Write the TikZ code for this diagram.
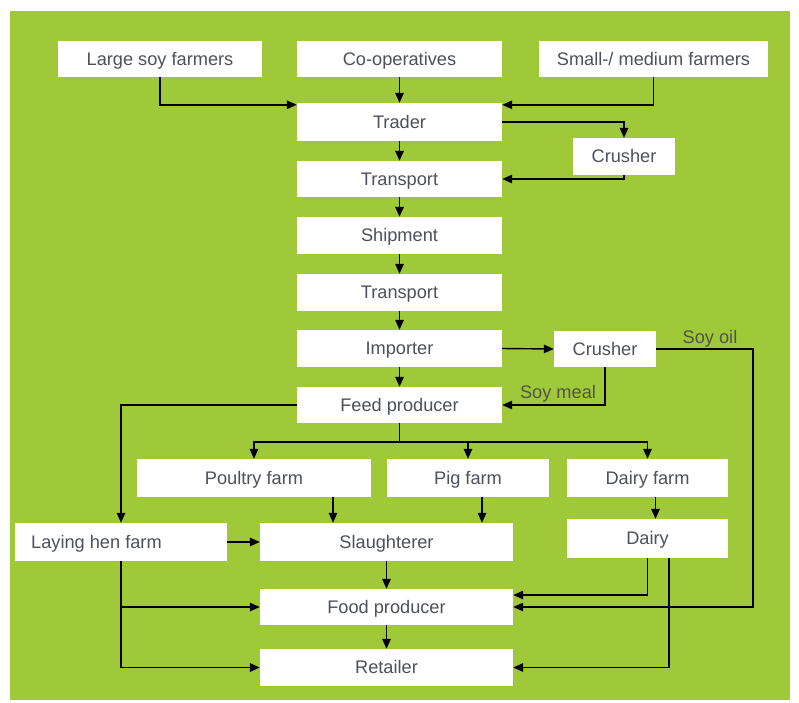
\documentclass[tikz,border=0pt]{standalone}
\usepackage{fontspec}
\setmainfont{Liberation Sans}
\usetikzlibrary{arrows.meta,calc}
\definecolor{bggreen}{RGB}{160,201,58}
\definecolor{txtgray}{RGB}{78,80,92}
\definecolor{lblgray}{RGB}{80,84,72}
\begin{document}
\begin{tikzpicture}[x=1pt,y=-1pt,
  box/.style={draw=none,fill=white,inner sep=0pt,text=txtgray,text height=13pt,text depth=1pt,font=\fontsize{18.2}{20}\selectfont},
  arr/.style={line width=1.4pt,draw=black,-{Triangle[length=10pt,width=8.5pt]}},
  ln/.style={line width=1.4pt,draw=black},
  lbl/.style={text=lblgray,inner sep=0pt,text height=13pt,text depth=1pt,font=\fontsize{18.2}{20}\selectfont}]
\useasboundingbox (0,0) rectangle (799,702);
\fill[bggreen] (10,11) rectangle (790,700);
% boxes
\node[box,minimum width=204pt,minimum height=36pt] (large) at (160,59) {Large soy farmers};
\node[box,minimum width=205pt,minimum height=36pt] (coop) at (399.5,59) {Co-operatives};
\node[box,minimum width=229pt,minimum height=36pt] (small) at (653.5,59) {Small-/ medium farmers};
\node[box,minimum width=205pt,minimum height=38pt] (trader) at (399.5,122) {Trader};
\node[box,minimum width=102pt,minimum height=37pt] (crusherA) at (624,156.5) {Crusher};
\node[box,minimum width=205pt,minimum height=36pt] (transA) at (399.5,179) {Transport};
\node[box,minimum width=205pt,minimum height=37pt] (ship) at (399.5,235.5) {Shipment};
\node[box,minimum width=205pt,minimum height=37pt] (transB) at (399.5,292.5) {Transport};
\node[box,minimum width=205pt,minimum height=37pt] (importer) at (399.5,348.5) {Importer};
\node[box,minimum width=102pt,minimum height=36pt] (crusherB) at (605,349) {Crusher};
\node[box,minimum width=205pt,minimum height=36pt] (feed) at (399.5,405) {Feed producer};
\node[box,minimum width=234pt,minimum height=38pt] (poultry) at (254,478) {Poultry farm};
\node[box,minimum width=162pt,minimum height=38pt] (pig) at (468,478) {Pig farm};
\node[box,minimum width=161pt,minimum height=38pt] (dairyfarm) at (647.5,478) {Dairy farm};
\node[box,minimum width=212pt,minimum height=38pt] (laying) at (121,542) {};
\node[lbl,text=txtgray,anchor=west] (layingtxt) at (31,542) {Laying hen farm};
\node[box,minimum width=253pt,minimum height=38pt] (slaughter) at (386.5,542) {Slaughterer};
\node[box,minimum width=161pt,minimum height=39pt] (dairy) at (647.5,538.5) {Dairy};
\node[box,minimum width=253pt,minimum height=36pt] (food) at (386.5,607) {Food producer};
\node[box,minimum width=253pt,minimum height=37pt] (retailer) at (386.5,667.5) {Retailer};
% labels
\node[lbl] (soyoil) at (710,337) {Soy oil};
\node[lbl] (soymeal) at (558,392) {Soy meal};
% connectors
\draw[arr] (large.south) |- ([yshift=-2pt]trader.north west);
\draw[arr] (coop.south) -- (trader.north);
\draw[arr] (small.south) |- ([yshift=-2pt]trader.north east);
\draw[arr] (trader.east) -| (crusherA.north);
\draw[arr] (crusherA.south) |- (transA.east);
\draw[arr] (trader.south) -- (transA.north);
\draw[arr] (transA.south) -- (ship.north);
\draw[arr] (ship.south) -- (transB.north);
\draw[arr] (transB.south) -- (importer.north);
\draw[arr] (importer.south) -- (feed.north);
\draw[arr] (importer.east) -- (crusherB.west);
\draw[arr] (crusherB.south) |- (feed.east);
\coordinate (oilc) at (753,349);
\draw[arr] (crusherB.east) -- (oilc) |- (food.east);
\draw[arr] (feed.west) -| (laying.north);
\coordinate (fj) at (399.5,442);
\draw[ln] (feed.south) -- (fj);
\draw[arr] (fj) -| (poultry.north);
\draw[arr] (fj) -| (dairyfarm.north);
\draw[arr] (fj -| pig.north) -- (pig.north);
\draw[arr] ([xshift=79pt]poultry.south) -- ([xshift=79pt]poultry.south |- slaughter.north);
\draw[arr] ([xshift=14pt]pig.south) -- ([xshift=14pt]pig.south |- slaughter.north);
\draw[arr] ([xshift=8pt]dairyfarm.south) -- ([xshift=8pt]dairyfarm.south |- dairy.north);
\draw[arr] (laying.east) -- (slaughter.west);
\draw[arr] (laying.south) |- (food.west);
\draw[arr] (laying.south) |- (retailer.west);
\draw[arr] (slaughter.south) -- (food.north);
\draw[arr] (food.south) -- (retailer.north);
\draw[arr] (dairy.south) |- ([yshift=12pt]food.east);
\draw[arr] ([xshift=21.5pt]dairy.south) |- (retailer.east);
\end{tikzpicture}
\end{document}
